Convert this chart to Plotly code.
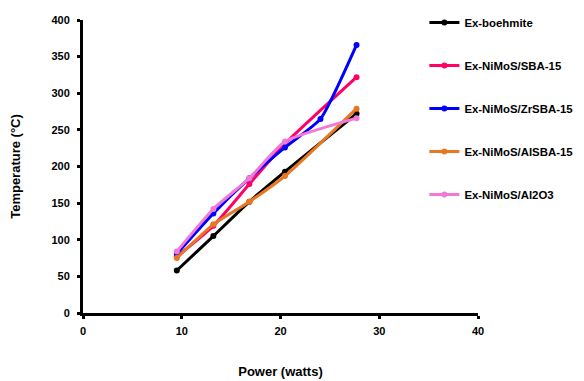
import plotly.graph_objects as go

power = [9.5, 13.2, 16.85, 20.45, 27.7]
power_zr = [9.5, 13.2, 16.85, 20.45, 24.05, 27.7]

boehmite = [58, 105, 152, 193, 272]
sba15 = [77, 119, 176, 231, 322]
zrsba15 = [81, 136, 184, 226, 265, 366]
alsba15 = [75, 121, 152, 187, 279]
al2o3 = [84, 142, 184, 234, 266]

names = ["Ex-boehmite", "Ex-NiMoS/SBA-15", "Ex-NiMoS/ZrSBA-15", "Ex-NiMoS/AlSBA-15", "Ex-NiMoS/Al2O3"]
colors = ["#000000", "#FF0066", "#0000FF", "#E87722", "#F279D6"]
xs = [power, power, power_zr, power, power]
ys = [boehmite, sba15, zrsba15, alsba15, al2o3]

fig = go.Figure()
for i, (n, c, x, y) in enumerate(zip(names, colors, xs, ys)):
    fig.add_trace(go.Scatter(
        x=x, y=y, name=n, mode="lines+markers",
        line=dict(color=c, width=3, shape="spline", smoothing=0.5),
        marker=dict(color=c, size=6),
        legendgroup=str(i),
    ))

fam = "Liberation Sans, Arial"
tick_font = dict(family=fam, size=11, color="black", weight="bold")
title_font = dict(family=fam, size=13, color="black", weight="bold")
legend_font = dict(family=fam, size=11.4, color="black", weight="bold")
fig.update_layout(
    template="none",
    width=584, height=381,
    margin=dict(l=75, r=114, t=12, b=76, autoexpand=False),
    plot_bgcolor="white", paper_bgcolor="white",
    font=dict(family=fam, size=11, color="black"),
    showlegend=True,
    legend=dict(xref="container", yref="container", x=0.713, xanchor="left",
                y=1.0, yanchor="top", maxheight=1.0,
                font=legend_font, tracegroupgap=24, traceorder="grouped", itemwidth=30,
                bgcolor="rgba(0,0,0,0)"),
    xaxis=dict(range=[0, 40], tickvals=[0, 10, 20, 30, 40], showline=True, linecolor="black",
               linewidth=3, ticks="outside", ticklen=3, tickwidth=3, tickcolor="black",
               showgrid=False, zeroline=False, tickfont=tick_font, automargin=False,
               ticklabelstandoff=3,
               title=dict(text="Power (watts)", standoff=31, font=title_font)),
    yaxis=dict(range=[0, 400], tickvals=[0, 50, 100, 150, 200, 250, 300, 350, 400], showline=True,
               linecolor="black", linewidth=3, ticks="outside", ticklen=3, tickwidth=3,
               tickcolor="black", showgrid=False, zeroline=False, tickfont=tick_font, automargin=False,
               ticklabelstandoff=5,
               title=dict(text="Temperature (°C)", standoff=28, font=title_font)),
)
fig.write_html("out.html")
